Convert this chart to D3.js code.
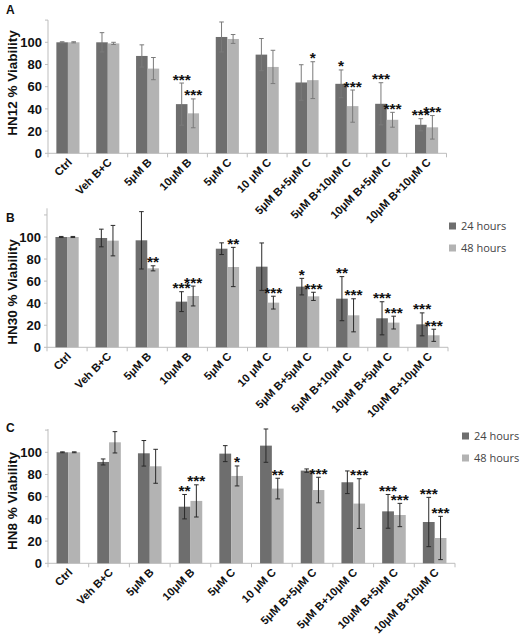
<!DOCTYPE html>
<html><head><meta charset="utf-8">
<script src="https://cdn.jsdelivr.net/npm/d3@7"></script>
<style>body{margin:0;background:#fff;} svg{display:block;}</style>
</head><body>
<script>
const categories = ["Ctrl","Veh B+C","5μM B","10μM B","5μM C","10 μM C","5μM B+5μM C","5μM B+10μM C","10μM B+5μM C","10μM B+10μM C"];
const seriesNames = ["24 hours","48 hours"];
const yTicks = [0,20,40,60,80,100,120];
const yLabels = [0,20,40,60,80,100];

// Panel A: HN12
const hn12_24 = [100, 100, 87.7, 44.3, 104.8, 88.9, 63.8, 62.6, 44.6, 25.7];
const hn12_24_err = [0.5, 8.7, 10, 19, 13.5, 14.5, 16, 12.5, 19, 5.5];
const hn12_48 = [100, 99, 76.3, 36, 103, 77.8, 65.9, 42.5, 30.2, 23.4];
const hn12_48_err = [0.5, 1, 10, 13, 4, 15, 16.6, 14.5, 6.7, 10.6];
const hn12_24_sig = ["","","","***","","","","*","***","***"];
const hn12_48_sig = ["","","","***","","","*","***","***","***"];

// Panel B: HN30
const hn30_24 = [100, 99.1, 97, 41.4, 89.4, 73.1, 55, 44.1, 26.3, 20.8];
const hn30_24_err = [0.5, 8, 26, 9, 5.3, 21.5, 7.5, 20, 15, 10.4];
const hn30_48 = [100, 96.7, 71.6, 46.5, 72.8, 40.5, 46.2, 29, 22.4, 10.9];
const hn30_48_err = [0.5, 13.8, 2.3, 9, 17.8, 5.8, 3.7, 15, 5.8, 5.5];
const hn30_24_sig = ["","","","***","","","*","**","***","***"];
const hn30_48_sig = ["","","**","***","**","***","***","***","***","***"];

// Panel C: HN8
const hn8_24 = [100, 91.3, 99.1, 51, 98.8, 106, 83.5, 73, 46.8, 37.2];
const hn8_24_err = [0.4, 2.7, 11.5, 11, 7.2, 15, 1.5, 10.2, 15.2, 22.2];
const hn8_48 = [100, 109, 87.4, 56.2, 78.7, 67.3, 66, 53.8, 43.5, 22.8];
const hn8_48_err = [0.4, 9.6, 15.3, 14.5, 9, 9.3, 11.5, 22.4, 10.5, 19.5];
const hn8_24_sig = ["","","","**","","","","","***","***"];
const hn8_48_sig = ["","","","***","*","**","***","***","***","***"];

const panels = [
  {letter:"A", title:"HN12 % Viability", s24:hn12_24, e24:hn12_24_err, s48:hn12_48, e48:hn12_48_err, g24:hn12_24_sig, g48:hn12_48_sig,
   x0:48, x1:446.5, yZero:153.3, y100:42.3, yTop:120, errColor:"#7a7a7a", legend:false, titleY:83, letterY:14},
  {letter:"B", title:"HN30 % Viability", s24:hn30_24, e24:hn30_24_err, s48:hn30_48, e48:hn30_48_err, g24:hn30_24_sig, g48:hn30_48_sig,
   x0:47, x1:448, yZero:347.3, y100:237, yTop:126, errColor:"#2a2a2a", legend:true, legX:449, legY:226, titleY:292, letterY:222},
  {letter:"C", title:"HN8 % Viability", s24:hn8_24, e24:hn8_24_err, s48:hn8_48, e48:hn8_48_err, g24:hn8_24_sig, g48:hn8_48_sig,
   x0:48, x1:455, yZero:563.3, y100:452.3, yTop:121, errColor:"#2a2a2a", legend:true, legX:462, legY:436, titleY:501, letterY:432}
];

const colors = ["#6e6e6e","#b3b3b3"];
const axisColor = "#bdbdbd";
const FONT = "'Liberation Sans', Arial, Helvetica, sans-serif";

const svg = d3.select("body").append("svg").attr("width",520).attr("height",638);

panels.forEach(p => {
  const g = svg.append("g");
  const x = d3.scaleBand().domain(categories).range([p.x0, p.x1]).padding(0);
  const y = d3.scaleLinear().domain([0,100]).range([p.yZero, p.y100]);
  const bw = x.bandwidth() * 0.29;

  g.append("line").attr("x1",p.x0).attr("x2",p.x0).attr("y1",y(0)).attr("y2",y(p.yTop))
    .attr("stroke",axisColor).attr("stroke-width",1);
  g.selectAll(".yt").data(yTicks).join("line")
    .attr("x1",p.x0-3).attr("x2",p.x0).attr("y1",d=>y(d)).attr("y2",d=>y(d))
    .attr("stroke",axisColor);
  g.selectAll(".yl").data(yLabels).join("text")
    .attr("x",p.x0-6).attr("y",d=>y(d)).attr("dy","0.36em")
    .attr("text-anchor","end").attr("font-family",FONT).attr("font-weight","bold")
    .attr("font-size",13).attr("fill","#111").text(d=>d);

  g.append("line").attr("x1",p.x0).attr("x2",p.x1).attr("y1",y(0)).attr("y2",y(0))
    .attr("stroke",axisColor);
  const bounds = categories.map(c=>x(c)).concat([p.x1]);
  g.selectAll(".xt").data(bounds).join("line")
    .attr("x1",d=>d).attr("x2",d=>d).attr("y1",y(0)).attr("y2",y(0)+4)
    .attr("stroke",axisColor);

  const series = [
    {vals:p.s24, errs:p.e24, sig:p.g24, off:-1},
    {vals:p.s48, errs:p.e48, sig:p.g48, off:0}
  ];
  series.forEach((s,si) => {
    const cx = c => x(c) + x.bandwidth()/2;
    g.selectAll(".bar"+si).data(categories).join("rect")
      .attr("x",(c)=>cx(c) + s.off*bw)
      .attr("y",(c,i)=>y(s.vals[i]))
      .attr("width",bw)
      .attr("height",(c,i)=>y(0)-y(s.vals[i]))
      .attr("fill",colors[si]);
  });
  series.forEach((s,si) => {
    const bx = c => x(c) + x.bandwidth()/2 + s.off*bw + bw/2;
    categories.forEach((c,i) => {
      const v = s.vals[i], e = s.errs[i];
      const xc = bx(c);
      g.append("line").attr("x1",xc).attr("x2",xc).attr("y1",y(v+e)).attr("y2",y(v-e))
        .attr("stroke",p.errColor).attr("stroke-width",1);
      [v+e, v-e].forEach(t => {
        g.append("line").attr("x1",xc-2.3).attr("x2",xc+2.3).attr("y1",y(t)).attr("y2",y(t))
          .attr("stroke",p.errColor).attr("stroke-width",1);
      });
      if (s.sig[i]) {
        g.append("text").attr("x",xc).attr("y",y(v+e)+1.5)
          .attr("text-anchor","middle").attr("font-family",FONT).attr("font-weight","bold")
          .attr("font-size",15.5).attr("fill","#111").text(s.sig[i]);
      }
    });
  });

  g.selectAll(".xl").data(categories).join("text")
    .attr("transform",c=>`translate(${x(c)+x.bandwidth()/2+2},${y(0)+7}) rotate(-45)`)
    .attr("text-anchor","end").attr("dy","0.35em")
    .attr("font-family",FONT).attr("font-weight","bold").attr("font-size",11.2)
    .attr("fill","#111").text(c=>c);

  g.append("text").attr("transform",`translate(17,${p.titleY}) rotate(-90)`)
    .attr("text-anchor","middle").attr("font-family",FONT).attr("font-weight","bold")
    .attr("font-size",13.5).attr("fill","#111").text(p.title);

  g.append("text").attr("x",6).attr("y",p.letterY).attr("font-family",FONT).attr("font-weight","bold")
    .attr("font-size",12).attr("fill","#111").text(p.letter);

  if (p.legend) {
    seriesNames.forEach((n,i) => {
      const ly = p.legY + i*22;
      g.append("rect").attr("x",p.legX).attr("y",ly-3.5).attr("width",7).attr("height",7).attr("fill",colors[i]);
      g.append("text").attr("x",p.legX+12).attr("y",ly).attr("dy","0.35em")
        .attr("font-family","'Open Sans', 'Noto Sans', sans-serif").attr("font-size",11)
        .attr("fill","#444").text(n);
    });
  }
});
</script>
</body></html>
